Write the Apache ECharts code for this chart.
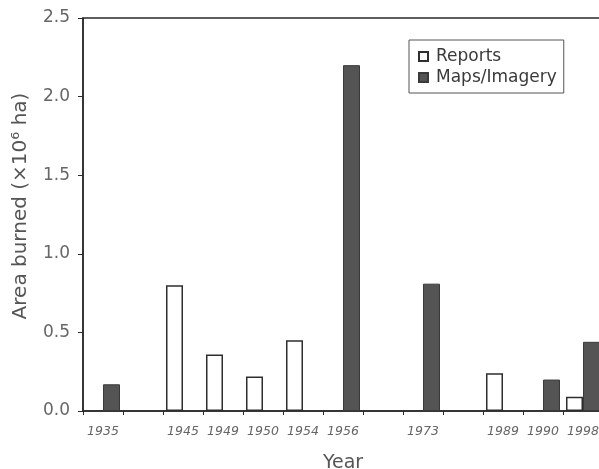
<!DOCTYPE html>
<html>
<head>
<meta charset="utf-8">
<script src="https://cdn.jsdelivr.net/npm/echarts@6/dist/echarts.min.js"></script>
<style>
html,body{margin:0;padding:0;background:#fff;}
#chart{width:599px;height:469px;}
</style>
</head>
<body>
<div id="chart"></div>
<script>
// ---- data ----
// categories along the x axis (blank entries are empty year slots in the original figure)
const categories = ['1935', '', '1945', '1949', '1950', '1954', '1956', '', '1973', '', '1989', '1990', '1998'];
const reports     = [null, null, 0.80, 0.36, 0.22, 0.45, null, null, null, null, 0.24, null, 0.09];
const mapsImagery = [0.17, null, null, null, null, null, 2.20, null, 0.81, null, null, 0.20, 0.44];
const yTicks = [0, 0.5, 1.0, 1.5, 2.0, 2.5];

const font = 'DejaVu Sans';
const chart = echarts.init(document.getElementById('chart'), null, {renderer: 'canvas'});
chart.setOption({
  animation: false,
  backgroundColor: '#fff',
  grid: {
    left: 83, right: -4, top: 18, bottom: 58,
    containLabel: false, outerBoundsMode: 'none',
    show: true, borderColor: '#2a2a2a', borderWidth: 1.5, backgroundColor: 'transparent'
  },
  legend: {
    left: 409, top: 40, orient: 'vertical',
    borderColor: '#555', borderWidth: 1,
    padding: [8, 7, 7, 9],
    itemGap: 4, itemWidth: 9, itemHeight: 9, icon: 'rect',
    textStyle: {fontFamily: font, fontSize: 17, color: '#3a3a3a', padding: [0, 0, 0, 3]},
    data: ['Reports', 'Maps/Imagery']
  },
  xAxis: {
    type: 'category',
    data: categories,
    boundaryGap: true,
    name: 'Year', nameLocation: 'middle', nameGap: 43,
    nameTextStyle: {fontFamily: font, fontSize: 19, color: '#555'},
    axisLine: {lineStyle: {color: '#2a2a2a', width: 1.5}},
    axisTick: {show: true, interval: 0, length: 4, lineStyle: {color: '#2a2a2a'}},
    axisLabel: {interval: 0, fontFamily: font, fontStyle: 'italic', fontSize: 12.5, color: '#666', margin: 14}
  },
  yAxis: {
    type: 'value', min: yTicks[0], max: yTicks[yTicks.length - 1], interval: 0.5,
    name: 'Area burned (×10⁶ ha)', nameLocation: 'middle', nameGap: 52, nameRotate: 90,
    nameTextStyle: {fontFamily: font, fontSize: 20, color: '#555', padding: [0, 0, 0, 17]},
    axisLine: {show: true, lineStyle: {color: '#2a2a2a', width: 1.5}},
    axisTick: {show: true, length: 5, lineStyle: {color: '#2a2a2a'}},
    splitLine: {show: false},
    axisLabel: {fontFamily: font, fontSize: 17, color: '#666', margin: 13,
      formatter: v => v.toFixed(1)}
  },
  series: [
    {
      name: 'Reports', type: 'bar', data: reports, barWidth: 17, barGap: '0%',
      itemStyle: {color: '#fff', borderColor: '#2e2e2e', borderWidth: 1.5}
    },
    {
      name: 'Maps/Imagery', type: 'bar', data: mapsImagery, barWidth: 17, barGap: '0%',
      itemStyle: {color: '#545454', borderColor: '#3a3a3a', borderWidth: 1}
    }
  ]
});
</script>
</body>
</html>
